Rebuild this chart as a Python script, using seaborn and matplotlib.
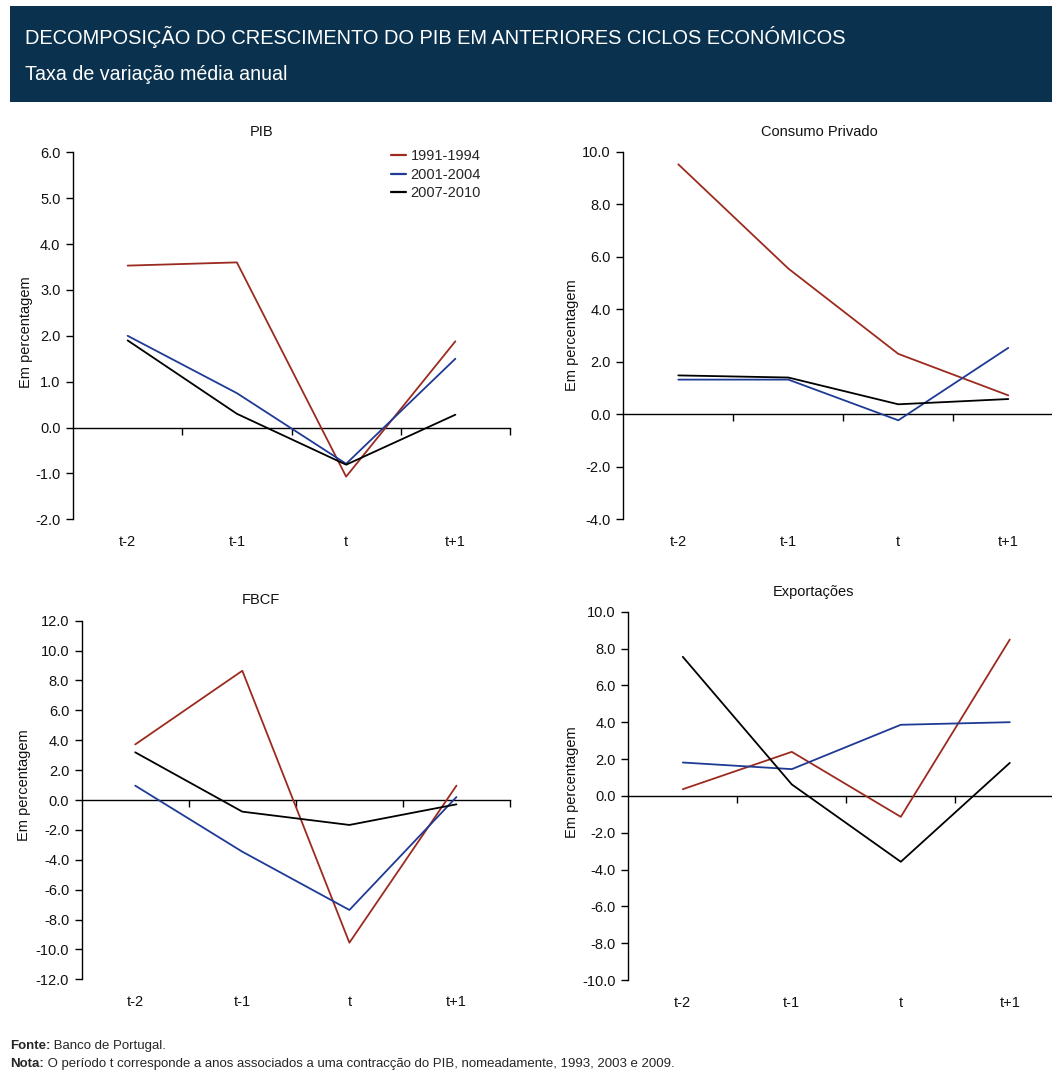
import numpy as np
import pandas as pd
import matplotlib
matplotlib.use("Agg")
import matplotlib.pyplot as plt
import seaborn as sns
from matplotlib import font_manager
from matplotlib.patches import Rectangle
from matplotlib.lines import Line2D

# ---- data -------------------------------------------------------------
periodos = ["1991-1994", "2001-2004", "2007-2010"]
momentos = ["t-2", "t-1", "t", "t+1"]

pib_1991 = [3.53, 3.60, -1.07, 1.88]
pib_2001 = [2.00, 0.75, -0.79, 1.50]
pib_2007 = [1.90, 0.30, -0.81, 0.28]

consumo_1991 = [9.52, 5.55, 2.30, 0.72]
consumo_2001 = [1.32, 1.32, -0.23, 2.53]
consumo_2007 = [1.48, 1.40, 0.38, 0.58]

fbcf_1991 = [3.72, 8.65, -9.55, 0.96]
fbcf_2001 = [0.96, -3.46, -7.36, 0.20]
fbcf_2007 = [3.19, -0.78, -1.67, -0.29]

export_1991 = [0.36, 2.39, -1.14, 8.49]
export_2001 = [1.81, 1.45, 3.86, 4.00]
export_2007 = [7.55, 0.62, -3.58, 1.79]

titulos = ["PIB", "Consumo Privado", "FBCF", "Exportações"]
series = [
    [pib_1991, pib_2001, pib_2007],
    [consumo_1991, consumo_2001, consumo_2007],
    [fbcf_1991, fbcf_2001, fbcf_2007],
    [export_1991, export_2001, export_2007],
]
limites = [(-2, 6, 1), (-4, 10, 2), (-12, 12, 2), (-10, 10, 2)]

titulo = "DECOMPOSIÇÃO DO CRESCIMENTO DO PIB EM ANTERIORES CICLOS ECONÓMICOS"
subtitulo = "Taxa de variação média anual"
rotulo_y = "Em percentagem"
fonte_txt = ("Fonte:", " Banco de Portugal.")
nota_txt = ("Nota:", " O período t corresponde a anos associados a uma contracção do PIB, "
            "nomeadamente, 1993, 2003 e 2009.")

# ---- style ------------------------------------------------------------
sns.set_theme(style="white")
plt.rcParams["font.family"] = ["Liberation Sans", "DejaVu Sans"]
plt.rcParams["axes.unicode_minus"] = False

installed = {f.name for f in font_manager.fontManager.ttflist}
narrow = "Liberation Sans Narrow" if "Liberation Sans Narrow" in installed else None
nota_family = [narrow, "Liberation Sans", "DejaVu Sans"] if narrow else ["Liberation Sans", "DejaVu Sans"]
nota_size = 10.5 if narrow else 9.5

cores = ["#9c2b1f", "#1f3a95", "#000000"]
W, H = 1052, 1084
fig = plt.figure(figsize=(W / 100, H / 100), dpi=100)


def px_box(left, right, top, bottom):
    return [left / W, 1 - bottom / H, (right - left) / W, (bottom - top) / H]


# header band
fig.patches.append(Rectangle((10 / W, 1 - 102 / H), 1 - 10 / W, 96 / H,
                             transform=fig.transFigure, facecolor="#0a324e",
                             edgecolor="none", zorder=0))
fig.text(25 / W, 1 - 37 / H, titulo, color="white", fontsize=14.4,
         ha="left", va="center")
fig.text(25 / W, 1 - 75 / H, subtitulo, color="white", fontsize=14.1,
         ha="left", va="center")

caixas = [
    (73, 510, 152.3, 519.3),
    (623.3, 1063.3, 151.7, 519.3),
    (81.7, 510, 620.7, 979.3),
    (628.3, 1064.3, 611.7, 980),
]
pos_titulo = [(262, 131.7), (819, 131.7), (261, 600), (813, 591.7)]
pos_ylabel = [(26, 332), (572, 335), (24, 785), (572, 782)]

for i in range(4):
    ax = fig.add_axes(px_box(*caixas[i]))
    lo, hi, step = limites[i]
    df = pd.DataFrame({
        "pos": list(range(len(momentos))) * len(periodos),
        "valor": np.concatenate(series[i]),
        "periodo": np.repeat(periodos, len(momentos)),
    })
    sns.lineplot(data=df, x="pos", y="valor", hue="periodo", hue_order=periodos,
                 palette=cores, linewidth=1.3, sort=False, legend=False, ax=ax,
                 zorder=3)

    ax.set_xlim(-0.5, len(momentos) - 0.5)
    ax.set_ylim(lo, hi)
    ax.set_yticks(np.arange(lo, hi + step / 2, step))
    ax.yaxis.set_major_formatter(matplotlib.ticker.FormatStrFormatter("%.1f"))
    ax.set_xticks(range(len(momentos)))
    ax.set_xticklabels(momentos)
    ax.tick_params(axis="x", length=0, pad=11.5, labelsize=10.5, colors="#111111")
    ax.tick_params(axis="y", direction="out", length=5, width=1, pad=4,
                   labelsize=10.5, colors="#111111", left=True)
    ax.tick_params(axis="y", color="black")
    for s in ("top", "right", "bottom"):
        ax.spines[s].set_visible(False)
    ax.spines["left"].set_color("black")
    ax.spines["left"].set_linewidth(1)
    ax.set_xlabel("")
    ax.set_ylabel("")
    ax.patch.set_alpha(0)

    # zero line carrying the category separator ticks
    zero = (0 - lo) / (hi - lo)
    sec = ax.secondary_xaxis(zero)
    sec.set_alignment("bottom")
    sec.set_xticks(np.arange(0.5, len(momentos), 1.0))
    sec.tick_params(axis="x", direction="out", length=5, width=1, color="black",
                    labelbottom=False, labeltop=False)
    sec.spines["bottom"].set_color("black")
    sec.spines["bottom"].set_linewidth(1)

    tx, ty = pos_titulo[i]
    fig.text(tx / W, 1 - ty / H, titulos[i], fontsize=10.5, ha="center",
             va="center", color="#111111")
    lx, ly = pos_ylabel[i]
    fig.text(lx / W, 1 - ly / H, rotulo_y, fontsize=10.5, rotation=90,
             ha="center", va="center", color="#111111")

    if i == 0:
        handles = [Line2D([], [], color=c, lw=1.6) for c in cores]
        x0, x1, t0, b0 = caixas[0]
        bx = (391 - x0) / (x1 - x0)
        by = (b0 - 149.5) / (b0 - t0)
        ax.legend(handles, periodos, loc="upper left", bbox_to_anchor=(bx, by),
                  frameon=False, fontsize=10.5, handlelength=1.05,
                  handletextpad=0.3, labelspacing=0.29, borderpad=0,
                  borderaxespad=0)

# footer notes: bold lead-in followed by regular text
renderer = fig.canvas.get_renderer()
for (neg, resto), y in ((fonte_txt, 1046), (nota_txt, 1064)):
    t = fig.text(10 / W, 1 - y / H, neg, fontsize=nota_size, fontweight="bold",
                 family=nota_family, ha="left", va="center")
    bb = t.get_window_extent(renderer)
    fig.text(bb.x1 / W, 1 - y / H, resto, fontsize=nota_size,
             family=nota_family, ha="left", va="center")

fig.savefig("out.png", dpi=100, facecolor="white")
